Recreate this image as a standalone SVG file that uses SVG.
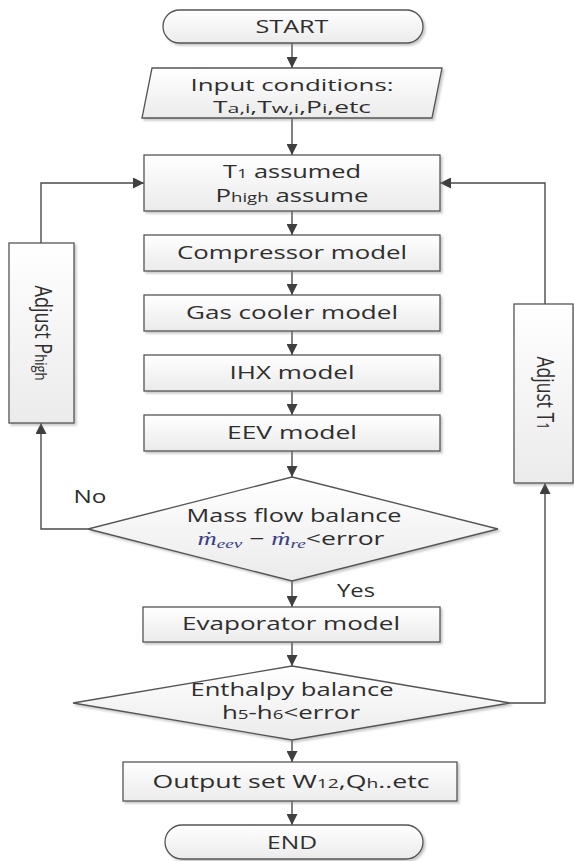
<svg xmlns="http://www.w3.org/2000/svg" width="574" height="861" viewBox="0 0 574 861">
<defs>
<linearGradient id="g" x1="0" y1="0" x2="0" y2="1">
<stop offset="0" stop-color="#ffffff"/>
<stop offset="1" stop-color="#ebebeb"/>
</linearGradient>
<filter id="sh" x="-10%" y="-10%" width="130%" height="140%">
<feDropShadow dx="2" dy="2" stdDeviation="1.2" flood-color="#888" flood-opacity="0.45"/>
</filter>
<marker id="ah" viewBox="0 0 10 10" refX="10" refY="5" markerWidth="11" markerHeight="11" markerUnits="userSpaceOnUse" orient="auto">
<path d="M0,0 L10,5 L0,10 z" fill="#3f3f3f"/>
</marker>
<style>
.n{fill:url(#g);stroke:#555;stroke-width:1.3;filter:url(#sh)}
.t{font-family:"Open Sans","Noto Sans","Liberation Sans",sans-serif;font-size:18px;fill:#2e2e2e;text-anchor:middle}
.i{font-size:16px}
.s{font-size:13px}
.c{fill:none;stroke:#4a4a4a;stroke-width:1.4;marker-end:url(#ah)}
.m{font-family:"Liberation Serif","DejaVu Serif",serif;font-style:italic;fill:#3a3f85}
</style>
</defs>
<g id="connectors">
<path class="c" d="M292,43 V68"/>
<path class="c" d="M292,118 V155"/>
<path class="c" d="M292,211 V235"/>
<path class="c" d="M292,271 V295"/>
<path class="c" d="M292,331 V355"/>
<path class="c" d="M292,391 V415"/>
<path class="c" d="M292,451 V477"/>
<path class="c" d="M292,581 V607"/>
<path class="c" d="M292,642 V666"/>
<path class="c" d="M292,740 V762"/>
<path class="c" d="M292,801 V825"/>
<path class="c" d="M88,529 H41 V423"/>
<path class="c" d="M41,243 V183 H144"/>
<path class="c" d="M510,703 H545 V483"/>
<path class="c" d="M545,304 V183 H440"/>
<text class="t" x="90" y="503" textLength="33" lengthAdjust="spacingAndGlyphs">No</text>
<text class="t" x="356" y="597" textLength="38" lengthAdjust="spacingAndGlyphs">Yes</text>
</g>
<g id="start">
<rect class="n" x="163" y="10" width="260" height="33" rx="16.5"/>
<text class="t" x="292" y="33" textLength="73" lengthAdjust="spacingAndGlyphs">START</text>
</g>
<g id="input">
<polygon class="n" points="152,68 442,68 432,118 142,118"/>
<text class="t i" x="292" y="91" textLength="203" lengthAdjust="spacingAndGlyphs">Input conditions:</text>
<text class="t i" x="292" y="113" textLength="158" lengthAdjust="spacingAndGlyphs">T<tspan class="s">a,i</tspan>,T<tspan class="s">w,i</tspan>,P<tspan class="s">i</tspan>,etc</text>
</g>
<g id="assume">
<rect class="n" x="144" y="155" width="296" height="56"/>
<text class="t" x="292" y="178" textLength="138" lengthAdjust="spacingAndGlyphs">T<tspan class="s">1</tspan> assumed</text>
<text class="t" x="292" y="202" textLength="153" lengthAdjust="spacingAndGlyphs">P<tspan class="s">high</tspan> assume</text>
</g>
<g id="compressor">
<rect class="n" x="144" y="235" width="296" height="36"/>
<text class="t" x="292" y="259" textLength="230" lengthAdjust="spacingAndGlyphs">Compressor model</text>
</g>
<g id="gascooler">
<rect class="n" x="144" y="295" width="296" height="36"/>
<text class="t" x="292" y="319" textLength="212" lengthAdjust="spacingAndGlyphs">Gas cooler model</text>
</g>
<g id="ihx">
<rect class="n" x="144" y="355" width="296" height="36"/>
<text class="t" x="292" y="379" textLength="125" lengthAdjust="spacingAndGlyphs">IHX model</text>
</g>
<g id="eev">
<rect class="n" x="144" y="415" width="296" height="36"/>
<text class="t" x="292" y="439" textLength="130" lengthAdjust="spacingAndGlyphs">EEV model</text>
</g>
<g id="massflow">
<polygon class="n" points="292,477 498,529 292,581 88,529"/>
<text class="t" x="294" y="522" textLength="215" lengthAdjust="spacingAndGlyphs">Mass flow balance</text>
<text class="t" x="291" y="545" textLength="187" lengthAdjust="spacingAndGlyphs"><tspan class="m">ṁ</tspan><tspan class="m s" dy="3">eev</tspan><tspan dy="-3"> − </tspan><tspan class="m">ṁ</tspan><tspan class="m s" dy="3">re</tspan><tspan dy="-3">&lt;error</tspan></text>
</g>
<g id="adjustphigh">
<rect class="n" x="9" y="243" width="65" height="180"/>
<text class="t" transform="translate(35,333) scale(1.3,1) rotate(90)" x="0" y="0" textLength="95" lengthAdjust="spacingAndGlyphs">Adjust P<tspan class="s">high</tspan></text>
</g>
<g id="adjustt1">
<rect class="n" x="514" y="304" width="59" height="179"/>
<text class="t" transform="translate(537,393) scale(1.3,1) rotate(90)" x="0" y="0" textLength="73" lengthAdjust="spacingAndGlyphs">Adjust T<tspan class="s">1</tspan></text>
</g>
<g id="evaporator">
<rect class="n" x="143" y="607" width="297" height="35"/>
<text class="t" x="291" y="630" textLength="218" lengthAdjust="spacingAndGlyphs">Evaporator model</text>
</g>
<g id="enthalpy">
<polygon class="n" points="292,666 510,703 292,740 73,703"/>
<text class="t" x="292" y="696" textLength="203" lengthAdjust="spacingAndGlyphs">Enthalpy balance</text>
<text class="t" x="291" y="719" textLength="138" lengthAdjust="spacingAndGlyphs">h<tspan class="s">5</tspan>-h<tspan class="s">6</tspan>&lt;error</text>
</g>
<g id="output">
<rect class="n" x="123" y="762" width="334" height="39"/>
<text class="t" x="291" y="788" textLength="277" lengthAdjust="spacingAndGlyphs">Output set W<tspan class="s">12</tspan>,Q<tspan class="s">h</tspan>..etc</text>
</g>
<g id="end">
<rect class="n" x="165" y="825" width="258" height="34" rx="17"/>
<text class="t" x="292" y="849" textLength="50" lengthAdjust="spacingAndGlyphs">END</text>
</g>
</svg>
